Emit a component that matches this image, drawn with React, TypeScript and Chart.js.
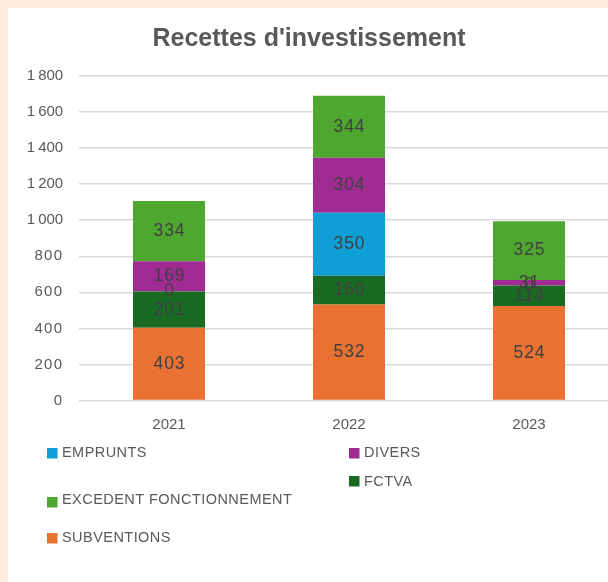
import React, { useEffect, useRef } from 'react';
import { Chart, registerables } from 'chart.js';

Chart.register(...registerables);

const TITLE = "Recettes d'investissement";
const CATEGORIES = ['2021', '2022', '2023'];
const SUBVENTIONS = [403, 532, 524];
const FCTVA = [201, 160, 114];
const EMPRUNTS = [0, 350, 0];
const DIVERS = [169, 304, 31];
const EXCEDENT = [334, 344, 325];
const Y_MIN = 0;
const Y_MAX = 1800;
const Y_STEP = 200;

const SERIES_LABELS = ['SUBVENTIONS', 'FCTVA', 'EMPRUNTS', 'DIVERS', 'EXCEDENT FONCTIONNEMENT'];
const SERIES_COLORS = ['#E97132', '#196B24', '#0F9ED5', '#A02B93', '#4EA72E'];

// Legend layout (canvas coordinates): [label, squareX, squareY, textCenterY]
const LEGEND_LAYOUT: [string, number, number, number][] = [
  ['EMPRUNTS', 39, 440, 445],
  ['DIVERS', 341, 440, 445],
  ['FCTVA', 341, 468, 474],
  ['EXCEDENT FONCTIONNEMENT', 39, 489, 491.5],
  ['SUBVENTIONS', 39, 525, 530],
];

const TEXT_COLOR = '#595959';
const LABEL_COLOR = '#404040';
const FONT = '"Liberation Sans", Arial, sans-serif';

const fmt = (v: number) => v.toLocaleString('fr-FR');

const customDraw = {
  id: 'customDraw',
  afterDatasetsDraw(chart: any) {
    const ctx = chart.ctx;
    ctx.save();
    ctx.font = `17.5px ${FONT}`;
    (ctx as any).letterSpacing = '0.8px';
    ctx.fillStyle = LABEL_COLOR;
    ctx.textAlign = 'center';
    ctx.textBaseline = 'middle';
    chart.data.datasets.forEach((ds: any, i: number) => {
      const meta = chart.getDatasetMeta(i);
      meta.data.forEach((bar: any, j: number) => {
        const p = bar.getProps(['x', 'y', 'base'], true);
        ctx.fillText(fmt(ds.data[j]), p.x + 0.4, (p.y + p.base) / 2);
      });
    });
    ctx.restore();
  },
  afterDraw(chart: any) {
    const ctx = chart.ctx;
    ctx.save();
    // title
    ctx.font = `bold 25px ${FONT}`;
    ctx.fillStyle = TEXT_COLOR;
    ctx.textAlign = 'center';
    ctx.textBaseline = 'alphabetic';
    ctx.fillText(TITLE, 301, 38);
    // legend
    ctx.font = `14.5px ${FONT}`;
    (ctx as any).letterSpacing = '0.45px';
    ctx.textAlign = 'left';
    ctx.textBaseline = 'middle';
    LEGEND_LAYOUT.forEach(([label, sx, sy, ty]) => {
      const idx = chart.data.datasets.findIndex((d: any) => d.label === label);
      if (idx < 0) return;
      ctx.fillStyle = chart.data.datasets[idx].backgroundColor;
      ctx.fillRect(sx, sy, 10.5, 10.5);
      ctx.fillStyle = TEXT_COLOR;
      ctx.fillText(label, sx + 15, ty);
    });
    ctx.restore();
  },
};

export default function App() {
  const ref = useRef<HTMLCanvasElement | null>(null);
  useEffect(() => {
    if (!ref.current) return;
    const values = [SUBVENTIONS, FCTVA, EMPRUNTS, DIVERS, EXCEDENT];
    const chart = new Chart(ref.current, {
      type: 'bar',
      data: {
        labels: CATEGORIES,
        datasets: SERIES_LABELS.map((label, i) => ({
          label,
          data: values[i],
          backgroundColor: SERIES_COLORS[i],
          borderWidth: 0,
          barPercentage: 0.4,
          categoryPercentage: 1,
        })),
      },
      options: {
        responsive: false,
        animation: false,
        devicePixelRatio: 1,
        layout: { padding: { top: 68, left: 0, right: 0, bottom: 151.5 } },
        plugins: {
          legend: { display: false },
          title: { display: false },
          tooltip: { enabled: false },
        },
        scales: {
          x: {
            stacked: true,
            afterFit: (scale: any) => {
              scale.height = 30;
            },
            grid: { display: false, drawTicks: false },
            border: { display: false },
            ticks: {
              color: TEXT_COLOR,
              padding: 15,
              font: { family: FONT, size: 15 },
            },
          },
          y: {
            stacked: true,
            min: Y_MIN,
            max: Y_MAX,
            afterFit: (scale: any) => {
              scale.width = 71;
              if (!scale._lsWrapped) {
                const orig = scale.drawLabels.bind(scale);
                scale.drawLabels = (area: any) => {
                  const c = scale.ctx;
                  c.save();
                  c.letterSpacing = '1.2px';
                  orig(area);
                  c.restore();
                };
                scale._lsWrapped = true;
              }
            },
            grid: { color: '#D9D9D9', lineWidth: 1.5, drawTicks: false },
            border: { display: false },
            ticks: {
              stepSize: Y_STEP,
              color: TEXT_COLOR,
              padding: 15.8,
              font: { family: FONT, size: 15 },
              callback: (v: any) => fmt(Number(v)),
            },
          },
        },
      },
      plugins: [customDraw],
    });
    return () => chart.destroy();
  }, []);

  return (
    <div style={{ position: 'fixed', inset: 0, background: '#FDEBDD', overflow: 'hidden' }}>
      <div
        style={{
          position: 'absolute',
          left: 8,
          top: 8,
          right: 0,
          bottom: 0,
          background: '#FFFFFF',
          overflow: 'hidden',
        }}
      >
        <canvas ref={ref} width={611} height={574} style={{ display: 'block', width: 611, height: 574 }} />
      </div>
    </div>
  );
}
